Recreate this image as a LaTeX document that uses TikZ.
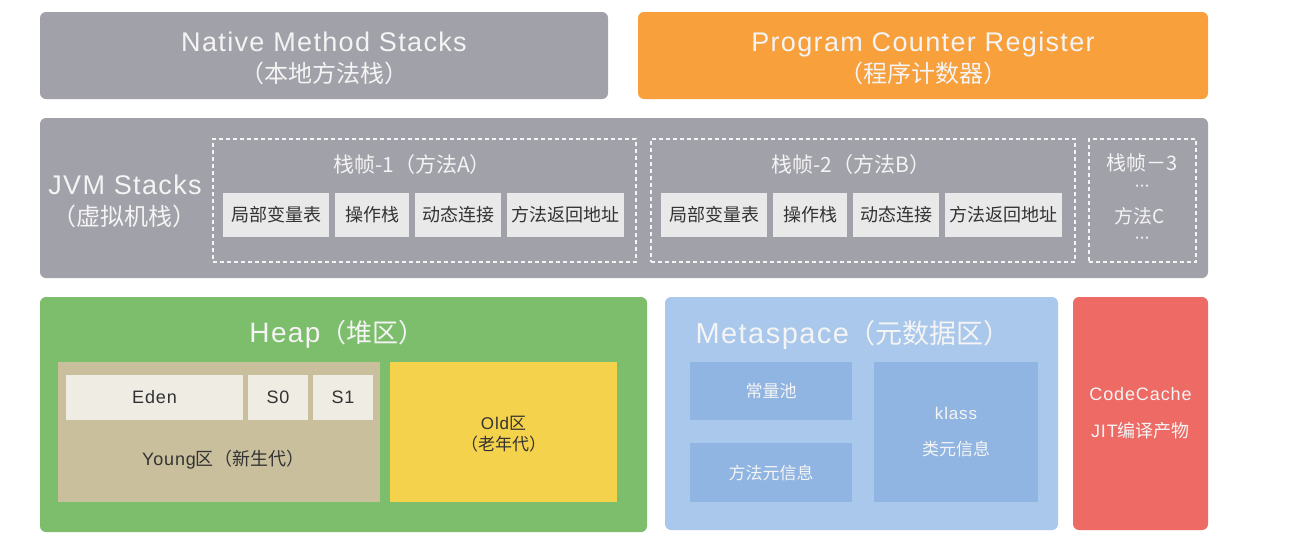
\documentclass[tikz,border=0pt]{standalone}
\usepackage{fontspec}
\setmainfont{Liberation Sans}[LetterSpace=5]
\newfontfamily\zhfont{Noto Sans CJK SC}
\newcommand{\zhtxt}[1]{{\zhfont #1}}
\newcommand{\zhsub}[2]{{\zhfont\fontsize{#1}{#1}\selectfont #2}}
\usetikzlibrary{positioning}
\definecolor{JvGrey}{HTML}{A1A1A9}
\definecolor{JvOrange}{HTML}{F7A03C}
\definecolor{JvGreen}{HTML}{7DBE6C}
\definecolor{JvTan}{HTML}{C9BF9D}
\definecolor{JvYellow}{HTML}{F4D24C}
\definecolor{JvSky}{HTML}{AAC8EB}
\definecolor{JvBlue}{HTML}{91B5E2}
\definecolor{JvRed}{HTML}{EE6A65}
\definecolor{JvCell}{HTML}{E9E9E9}
\definecolor{JvCream}{HTML}{EFECE3}
\definecolor{JvInk}{HTML}{333333}
\definecolor{JvLight}{HTML}{F4F4F4}

\begin{document}
\begin{tikzpicture}[
    x=1pt,y=-1pt,
    area/.style={rounded corners=6pt,inner sep=0pt,outer sep=0pt,
      text=JvLight,align=center},
    label/.style={text=JvLight,align=center,font=\fontsize{27}{31}\selectfont},
    cell/.style={fill=JvCell,minimum height=44,inner sep=0pt,outer sep=0pt,
      text=JvInk,font=\zhfont\fontsize{18}{20}\selectfont},
    frame/.style={draw=JvLight,line width=1.3pt,dash pattern=on 4pt off 3pt,
      inner sep=0pt,minimum height=123},
    gen/.style={fill=JvCream,minimum height=45,inner sep=0pt,outer sep=0pt,
      text=JvInk,font=\fontsize{18}{20}\selectfont},
    meta/.style={fill=JvBlue,inner sep=0pt,outer sep=0pt,text=JvLight,
      font=\zhfont\fontsize{17}{36}\selectfont,align=center},
    dots/.style={text=JvLight,font=\fontsize{13}{13}\selectfont\bfseries}
  ]
    \path[use as bounding box,fill=white] (0,0) rectangle (1304,552);

    % top row
    \node[area,fill=JvGrey,minimum width=568,minimum height=87] (native) at (324,55.5) {};
    \node[label] (nativelabel) at (324,58.5)
      {Native Method Stacks\\\zhsub{24}{（本地方法栈）}};
    \node[area,fill=JvOrange,minimum width=570,minimum height=87] (pcreg) at (923,55.5) {};
    \node[label] (pclabel) at (923,58.5)
      {Program Counter Register\\\zhsub{24}{（程序计数器）}};

    % JVM stacks
    \node[area,fill=JvGrey,minimum width=1168,minimum height=160] (jvm) at (624,198) {};
    \node[label] (jvmlabel) at (125,201)
      {JVM Stacks\\\zhsub{24}{（虚拟机栈）}};

    \node[frame,minimum width=423] (frameA) at (424.5,200.5) {};
    \node[text=JvLight,font=\zhfont\fontsize{21}{24}\selectfont] (titleA) at (412,165) {栈帧-1（方法A）};
    \node[cell,minimum width=106] (localA) at (276,215) {局部变量表};
    \node[cell,minimum width=74] (operA) at (372,215) {操作栈};
    \node[cell,minimum width=86] (linkA) at (458,215) {动态连接};
    \node[cell,minimum width=117] (retA) at (565.5,215) {方法返回地址};

    \node[frame,minimum width=424] (frameB) at (863,200.5) {};
    \node[text=JvLight,font=\zhfont\fontsize{21}{24}\selectfont] (titleB) at (851,165) {栈帧-2（方法B）};
    \node[cell,minimum width=106] (localB) at (714,215) {局部变量表};
    \node[cell,minimum width=74] (operB) at (810,215) {操作栈};
    \node[cell,minimum width=86] (linkB) at (896,215) {动态连接};
    \node[cell,minimum width=117] (retB) at (1003.5,215) {方法返回地址};

    \node[frame,minimum width=107] (frameC) at (1142.5,200.5) {};
    \node[text=JvLight,font=\zhfont\fontsize{20}{22}\selectfont] (titleC) at (1142.5,163) {栈帧－3};
    \node[dots] (dotsup) at (1142.5,188) {···};
    \node[text=JvLight,font=\zhfont\fontsize{19}{22}\selectfont] (methodC) at (1140,216) {方法C};
    \node[dots] (dotsdown) at (1142.5,240) {···};

    % heap
    \node[area,fill=JvGreen,minimum width=607,minimum height=235] (heap) at (343.5,414.5) {};
    \node[text=JvLight,font=\fontsize{28}{30}\selectfont] (heaptitle) at (337,334)
      {Heap\zhsub{26}{（堆区）}};
    \node[fill=JvTan,minimum width=322,minimum height=140,inner sep=0pt] (young) at (219,432) {};
    \node[gen,minimum width=177] (eden) at (154.5,397.5) {Eden};
    \node[gen,minimum width=60] (szero) at (278,397.5) {S0};
    \node[gen,minimum width=60] (sone) at (343,397.5) {S1};
    \node[text=JvInk,font=\fontsize{18}{20}\selectfont] (younglabel) at (223,460)
      {Young\zhsub{18}{区（新生代）}};
    \node[fill=JvYellow,minimum width=227,minimum height=140,inner sep=0pt] (old) at (503.5,432) {};
    \node[text=JvInk,align=center,font=\fontsize{17}{21}\selectfont] (oldlabel) at (503.5,434)
      {Old\zhtxt{区}\\\zhtxt{（老年代）}};

    % metaspace
    \node[area,fill=JvSky,minimum width=393,minimum height=233] (metaspace) at (861.5,413.5) {};
    \node[anchor=west,text=JvLight,font=\fontsize{29}{32}\selectfont] (metatitle) at (692,335)
      {Metaspace\zhsub{27}{（元数据区）}};
    \node[meta,minimum width=162,minimum height=58] (pool) at (771,391) {常量池};
    \node[meta,minimum width=162,minimum height=59] (methodinfo) at (771,472.5) {方法元信息};
    \node[meta,minimum width=164,minimum height=140] (klass) at (956,432)
      {{\rmfamily klass}\\类元信息};

    % code cache
    \node[area,fill=JvRed,minimum width=135,minimum height=233,
      font=\fontsize{18}{37}\selectfont] (codecache) at (1140.5,413.5)
      {CodeCache\\JIT\zhtxt{编译产物}};
  \end{tikzpicture}
\end{document}
